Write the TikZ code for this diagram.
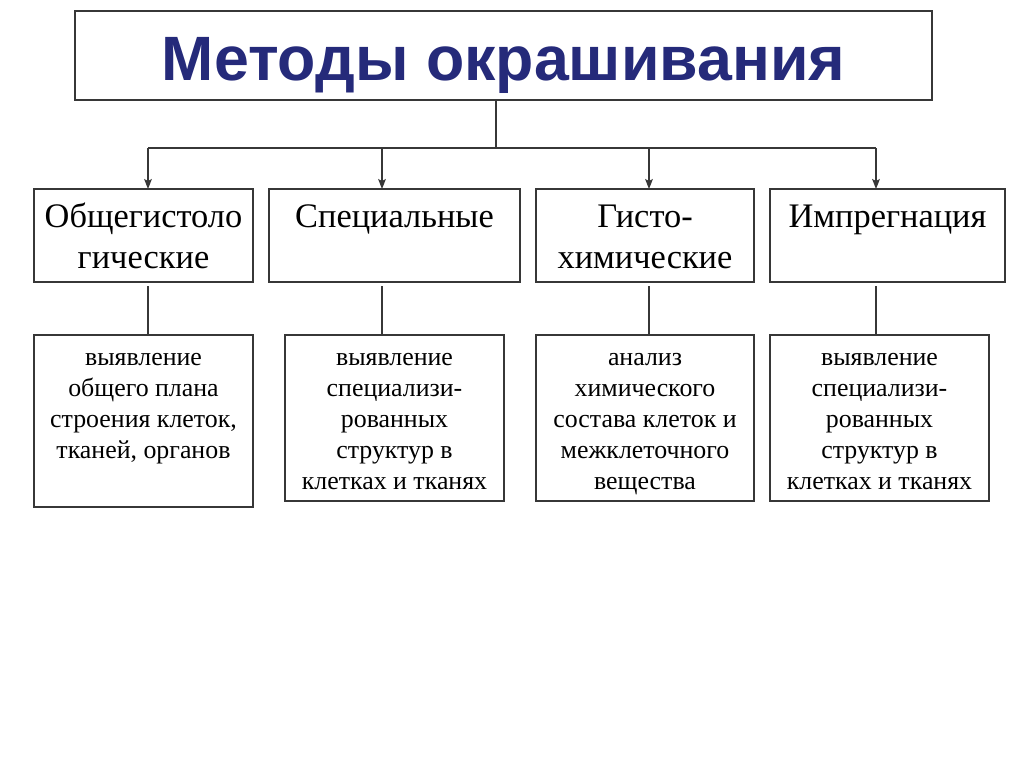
\documentclass[tikz,border=0pt]{standalone}
\usepackage{fontspec}
\usetikzlibrary{arrows.meta}
\setmainfont{Liberation Serif}
\newfontfamily\titlefont{Liberation Sans}
\definecolor{titleblue}{RGB}{37,42,122}
\definecolor{boxline}{RGB}{55,55,55}
% struts for the first and the last line of a box
\newcommand{\topstrut}[1]{\rule{0pt}{\dimexpr.7\baselineskip+#1\relax}}
\newcommand{\botstrut}[1]{\rule[-\dimexpr.3\baselineskip+#1\relax]{0pt}{\dimexpr\baselineskip+#1\relax}}

\begin{document}
\begin{tikzpicture}[x=0.75pt, y=-0.75pt,
  box/.style={draw=boxline, line width=1pt, inner sep=0pt, outer sep=0pt, align=center},
  method/.style={box, minimum height=69.75pt, font=\fontsize{25.8}{30.75}\selectfont},
  aim/.style={box, font=\fontsize{19.4}{23.25}\selectfont},
  link/.style={line width=1pt, draw=boxline},
  tip/.style={-{Stealth[length=7.5pt,width=5.8pt,inset=1.5pt]}}]
 \useasboundingbox (0,0) rectangle (1024,767);

 \node[box, minimum width=642.75pt, minimum height=66.75pt, text=titleblue,
   text height=36.75pt, text depth=0pt,
   font=\titlefont\fontsize{47}{56}\selectfont\bfseries] at (503.5, 55.5) (title) {Методы окрашивания};

 \node[method, minimum width=164.25pt] at (143.5, 235.5) (m1) {\topstrut{5.2pt}Общегистоло\\гические\botstrut{-0.5pt}};
 \node[method, minimum width=188.25pt] at (394.5, 235.5) (m2) {\topstrut{5.2pt}Специальные\\\botstrut{-0.5pt}};
 \node[method, minimum width=163.5pt]  at (645, 235.5)   (m3) {\topstrut{5.2pt}Гисто-\\химические\botstrut{-0.5pt}};
 \node[method, minimum width=176.25pt] at (887.5, 235.5) (m4) {\topstrut{5.2pt}Импрегнация\\\botstrut{-0.5pt}};

 \node[aim, minimum width=164.25pt, minimum height=129pt] at (143.5, 421) (d1) {\topstrut{0pt}выявление\\общего плана\\строения клеток,\\тканей, органов\\\botstrut{0.3pt}};
 \node[aim, minimum width=164.25pt, minimum height=124.5pt] at (394.5, 418) (d2) {\topstrut{4.2pt}выявление\\специализи-\\рованных\\структур в\\клетках и тканях\botstrut{0pt}};
 \node[aim, minimum width=163.5pt, minimum height=124.5pt]  at (645, 418)   (d3) {\topstrut{4.2pt}анализ\\химического\\состава клеток и\\межклеточного\\вещества\botstrut{0pt}};
 \node[aim, minimum width=164.25pt, minimum height=124.5pt] at (879.5, 418) (d4) {\topstrut{4.2pt}выявление\\специализи-\\рованных\\структур в\\клетках и тканях\botstrut{0pt}};

 % bus under the title
 \coordinate (a0) at (496, 148);
 \coordinate (a1) at (148, 148);
 \coordinate (a2) at (382, 148);
 \coordinate (a3) at (649, 148);
 \coordinate (a4) at (876, 148);
 \draw[link] (a0 |- title.south) -- (a0);
 \draw[link] (a1) -- (a4);

 \draw[link,tip] (a1) -- (a1 |- m1.north);
 \draw[link,tip] (a2) -- (a2 |- m2.north);
 \draw[link,tip] (a3) -- (a3 |- m3.north);
 \draw[link,tip] (a4) -- (a4 |- m4.north);

 \draw[link, shorten <=3pt] (a1 |- m1.south) -- (a1 |- d1.north);
 \draw[link, shorten <=3pt] (a2 |- m2.south) -- (a2 |- d2.north);
 \draw[link, shorten <=3pt] (a3 |- m3.south) -- (a3 |- d3.north);
 \draw[link, shorten <=3pt] (a4 |- m4.south) -- (a4 |- d4.north);
\end{tikzpicture}
\end{document}
